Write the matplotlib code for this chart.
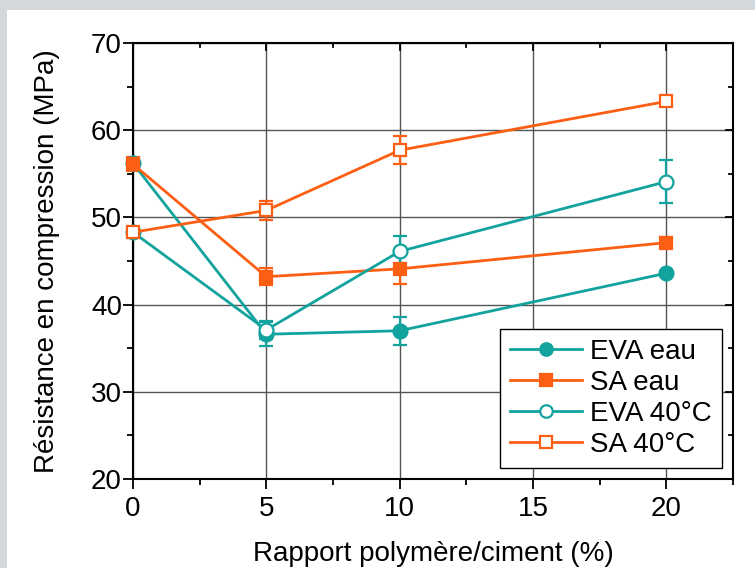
import matplotlib.pyplot as plt
from matplotlib.patches import Rectangle
from matplotlib.ticker import MultipleLocator
from matplotlib.lines import Line2D

plt.rcParams['font.family'] = ['Liberation Sans', 'DejaVu Sans']

# data
ratio = [0, 5, 10, 20]
eva_eau = [56.2, 36.6, 37.0, 43.6]
eva_eau_err = [0.4, 1.4, 1.6, 0.3]
sa_eau = [56.1, 43.2, 44.1, 47.1]
sa_eau_err = [0.8, 1.0, 1.7, 0.6]
eva_40 = [48.3, 37.1, 46.1, 54.1]
eva_40_err = [0.3, 1.0, 1.8, 2.5]
sa_40 = [48.3, 50.8, 57.7, 63.3]
sa_40_err = [0.4, 1.1, 1.6, 0.4]

teal = '#12a39e'
orange = '#fc5f14'
fs = 20

fig = plt.figure(figsize=(7.55, 5.68), dpi=100)
fig.patch.set_facecolor('#d3d8dc')
fig.patches.append(Rectangle((7 / 755, 0), 1, 1 - 10 / 568, transform=fig.transFigure,
                             facecolor='white', edgecolor='none', zorder=-10))

ax = fig.add_axes([133 / 755, 89 / 568, 600 / 755, 436 / 568])
ax.set_facecolor('white')

series = [
    (eva_eau, eva_eau_err, teal, 'o', teal, 'EVA eau'),
    (sa_eau, sa_eau_err, orange, 's', orange, 'SA eau'),
    (eva_40, eva_40_err, teal, 'o', 'white', 'EVA 40°C'),
    (sa_40, sa_40_err, orange, 's', 'white', 'SA 40°C'),
]
handles = []
for y, err, col, mk, fc, lab in series:
    ms = 10 if mk == 'o' else 9
    ax.errorbar(ratio, y, yerr=err, color=col, lw=2.0, marker=mk, ms=ms,
                mfc=fc, mec=col, mew=1.6, capsize=5, capthick=1.6,
                elinewidth=1.6, zorder=3, clip_on=False)
    handles.append(Line2D([], [], color=col, lw=2.0, marker=mk, ms=ms - 1,
                          mfc=fc, mec=col, mew=1.6, label=lab))

ax.set_xlim(0, 22.5)
ax.set_ylim(20, 70)
ax.xaxis.set_major_locator(MultipleLocator(5))
ax.xaxis.set_minor_locator(MultipleLocator(2.5))
ax.yaxis.set_major_locator(MultipleLocator(10))
ax.yaxis.set_minor_locator(MultipleLocator(5))
ax.grid(True, which='major', color='#555555', lw=1.0)
ax.set_axisbelow(True)

for s in ax.spines.values():
    s.set_linewidth(1.5)
    s.set_color('black')

ax.tick_params(which='both', direction='out', width=1.3, labelsize=fs,
               top=False, right=False)
ax.tick_params(which='major', length=7)
ax.tick_params(which='minor', length=4)
ax.tick_params(axis='x', pad=5)
ax.tick_params(axis='y', pad=1)

# inward mirror ticks on top and right
for v in [2.5, 5, 7.5, 10, 12.5, 15, 17.5, 20]:
    ax.plot([v, v], [70, 70 - (7 if v % 5 == 0 else 4) * 50 / 436], color='black',
            lw=1.3, clip_on=False, zorder=4)
for v in [25, 30, 35, 40, 45, 50, 55, 60, 65]:
    ax.plot([22.5, 22.5 - (7 if v % 10 == 0 else 4) * 22.5 / 600], [v, v], color='black',
            lw=1.3, clip_on=False, zorder=1.5)

ax.set_xlabel('Rapport polymère/ciment (%)', fontsize=fs, labelpad=14)
ax.set_ylabel('Résistance en compression (MPa)', fontsize=fs, labelpad=22)

leg = ax.legend(handles=handles, loc='lower right', fontsize=fs, frameon=True,
                fancybox=False, edgecolor='black', framealpha=1,
                borderaxespad=0.4, handlelength=2.6, labelspacing=0.18,
                handletextpad=0.3, borderpad=0.35)
leg.get_frame().set_linewidth(1.0)
leg.set_zorder(5)

fig.savefig('out.png', dpi=100, facecolor=fig.get_facecolor())
